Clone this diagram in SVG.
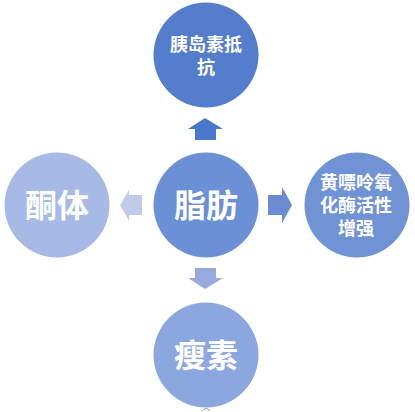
<svg xmlns="http://www.w3.org/2000/svg" width="415" height="412" viewBox="0 0 415 412">
<style>
.t{fill:#fff;font-family:"Noto Sans CJK SC","Noto Sans",sans-serif;font-weight:bold;text-anchor:middle}
.big{font-size:32px}
.sm{font-size:18px}
</style>
<rect width="415" height="412" fill="#fff"/>
<g id="connectors">
<polygon id="arrow-up" points="205,118 223,129 216,129 216,140 195,140 195,129 188,129" fill="#4a78cb"/>
<polygon id="arrow-left" points="120,205 129,190 129,195 142,195 142,215 129,215 129,221" fill="#c3cbea"/>
<polygon id="arrow-right" points="292,205 282,187 282,195 268,195 268,215 282,215 282,223" fill="#6b8bd3"/>
<polygon id="arrow-down" points="205,289 223,278 216,278 216,268 195,268 195,278 188,278" fill="#97a9dd"/>
</g>
<g id="node-top">
<circle cx="206" cy="55" r="52.5" fill="#547dcb"/>
<text class="t sm" x="206" y="51">胰岛素抵<tspan x="206" dy="23">抗</tspan></text>
</g>
<g id="node-center">
<circle cx="206" cy="205" r="52.5" fill="#6b90d6"/>
<text class="t big" x="206" y="217">脂肪</text>
</g>
<g id="node-left">
<circle cx="57" cy="205" r="52.5" fill="#a7bae6"/>
<text class="t big" x="57" y="217">酮体</text>
</g>
<g id="node-right">
<circle cx="357" cy="205" r="52.5" fill="#7093d6"/>
<text class="t sm" x="356" y="189">黄嘌呤氧<tspan x="356" dy="23">化酶活性</tspan><tspan x="356" dy="23">增强</tspan></text>
</g>
<g id="node-bottom">
<circle cx="206" cy="355" r="52.5" fill="#8ca6e0"/>
<text class="t big" x="206" y="367">瘦素</text>
</g>
<path d="M202,411 Q206,406 210,411" fill="none" stroke="#999" stroke-width="1"/>
</svg>
